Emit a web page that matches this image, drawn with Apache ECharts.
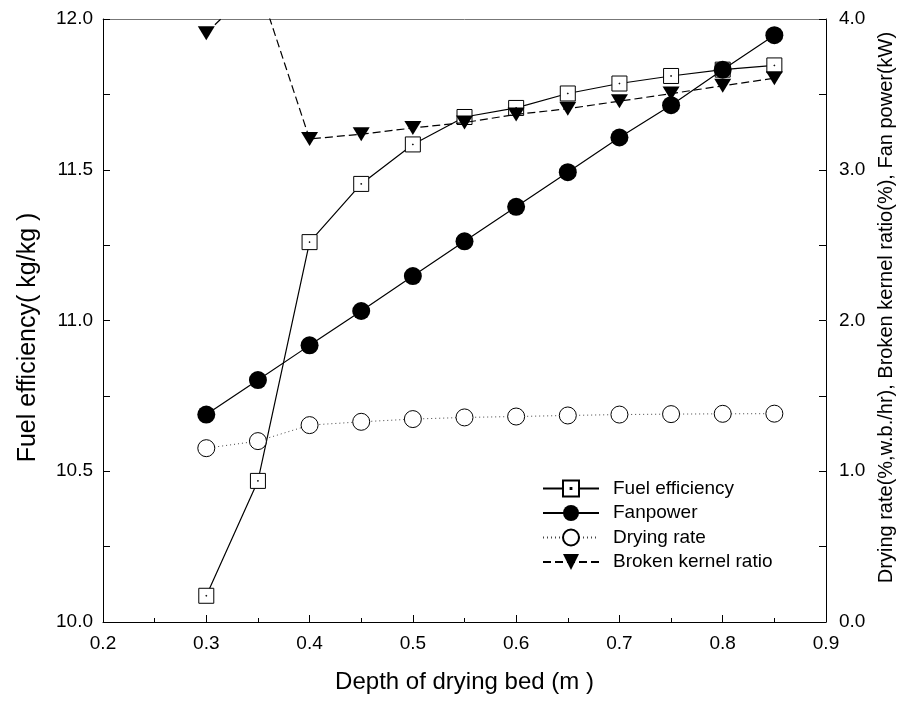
<!DOCTYPE html>
<html>
<head>
<meta charset="utf-8">
<script src="https://cdn.jsdelivr.net/npm/echarts@6/dist/echarts.min.js"></script>
<style>html,body{margin:0;padding:0;background:#fff}#c{width:907px;height:704px}</style>
</head>
<body>
<div id="c"></div>
<script>
const depth = [0.3, 0.35, 0.4, 0.45, 0.5, 0.55, 0.6, 0.65, 0.7, 0.75, 0.8, 0.85];
const fuelEfficiency = [10.087, 10.468, 11.260, 11.453, 11.584, 11.675, 11.705, 11.753, 11.786, 11.811, 11.832, 11.846];
const fanPower = [1.376, 1.605, 1.835, 2.063, 2.295, 2.525, 2.754, 2.984, 3.214, 3.428, 3.664, 3.893];
const dryingRate = [1.153, 1.200, 1.306, 1.328, 1.346, 1.357, 1.363, 1.370, 1.376, 1.379, 1.381, 1.382];
const brokenKernel = [3.906, 4.24, 3.204, 3.236, 3.277, 3.313, 3.367, 3.405, 3.455, 3.505, 3.557, 3.607];
const seriesNames = ['Fuel efficiency', 'Fanpower', 'Drying rate', 'Broken kernel ratio'];

const FONT = 'Liberation Sans, Arial, sans-serif';
const pairs = (ys) => depth.map((x, i) => [x, ys[i]]);
const squareDot = 'path://M0,0H16V16H0Z M7.6,7.6H8.4V8.4H7.6Z';

const chart = echarts.init(document.getElementById('c'), null, {renderer: 'canvas'});
const axisLabel = {color: '#000', fontSize: 19, fontFamily: FONT};
chart.setOption({
  animation: false,
  backgroundColor: '#fff',
  grid: {left: 103, right: 81, top: 19, bottom: 82, containLabel: false},
  xAxis: [{
    type: 'value', min: 0.2, max: 0.9, interval: 0.1,
    name: 'Depth of drying bed (m )', nameLocation: 'middle', nameGap: 48,
    nameTextStyle: {color: '#000', fontSize: 24, fontFamily: FONT},
    axisLine: {show: true, lineStyle: {color: '#000', width: 1}},
    axisTick: {show: true, inside: true, length: 7, lineStyle: {color: '#000'}},
    minorTick: {show: true, splitNumber: 2, length: 4, lineStyle: {color: '#000'}},
    splitLine: {show: false},
    axisLabel: Object.assign({margin: 12, formatter: v => v.toFixed(1)}, axisLabel)
  }, {
    type: 'value', min: 0.2, max: 0.9, position: 'top',
    axisLine: {show: true, lineStyle: {color: '#777', width: 1}},
    axisTick: {show: false}, axisLabel: {show: false}, splitLine: {show: false}
  }],
  yAxis: [{
    type: 'value', min: 10, max: 12, interval: 0.5, position: 'left',
    name: 'Fuel efficiency( kg/kg )', nameLocation: 'middle', nameGap: 62,
    nameTextStyle: {color: '#000', fontSize: 25, fontFamily: FONT, padding: [0, 34, 0, 0]},
    axisLine: {show: true, lineStyle: {color: '#000', width: 1}},
    axisTick: {show: true, inside: true, length: 7, lineStyle: {color: '#000'}},
    minorTick: {show: true, splitNumber: 2, length: 7, lineStyle: {color: '#000'}},
    splitLine: {show: false},
    axisLabel: Object.assign({margin: 10, formatter: v => v.toFixed(1)}, axisLabel)
  }, {
    type: 'value', min: 0, max: 4, interval: 1, position: 'right',
    name: 'Drying rate(%,w.b./hr), Broken kernel ratio(%), Fan power(kW)',
    nameLocation: 'middle', nameGap: 44,
    nameTextStyle: {color: '#000', fontSize: 20, fontFamily: FONT, padding: [0, 0, 0, 26]},
    axisLine: {show: true, lineStyle: {color: '#000', width: 1}},
    axisTick: {show: true, inside: true, length: 7, lineStyle: {color: '#000'}},
    minorTick: {show: true, splitNumber: 2, length: 7, lineStyle: {color: '#000'}},
    splitLine: {show: false},
    axisLabel: Object.assign({margin: 13, formatter: v => v.toFixed(1)}, axisLabel)
  }],
  legend: {
    orient: 'vertical', left: 537, top: 474,
    itemWidth: 56, itemHeight: 20, itemGap: 5.5,
    textStyle: {color: '#000', fontSize: 19, fontFamily: FONT, padding: [0, 0, 0, 9]},
    data: seriesNames,
    selectedMode: false
  },
  series: [{
    name: seriesNames[0], type: 'line', xAxisIndex: 0, yAxisIndex: 0,
    data: pairs(fuelEfficiency),
    symbol: squareDot, symbolSize: 15,
    itemStyle: {color: '#fff', borderColor: '#000', borderWidth: 1},
    lineStyle: {color: '#000', width: 1.2, type: 'solid'},
    emphasis: {disabled: true}, z: 2
  }, {
    name: seriesNames[1], type: 'line', xAxisIndex: 0, yAxisIndex: 1,
    data: pairs(fanPower),
    symbol: 'circle', symbolSize: 18,
    itemStyle: {color: '#000', borderColor: '#000', borderWidth: 0},
    lineStyle: {color: '#000', width: 1.2, type: 'solid'},
    emphasis: {disabled: true}, z: 3
  }, {
    name: seriesNames[2], type: 'line', xAxisIndex: 0, yAxisIndex: 1,
    data: pairs(dryingRate),
    symbol: 'circle', symbolSize: 17,
    itemStyle: {color: '#fff', borderColor: '#000', borderWidth: 1},
    lineStyle: {color: '#444', width: 1, type: [1, 3]},
    emphasis: {disabled: true}, z: 2
  }, {
    name: seriesNames[3], type: 'line', xAxisIndex: 0, yAxisIndex: 1,
    data: pairs(brokenKernel),
    symbol: 'triangle', symbolRotate: 180, symbolSize: [17, 14],
    itemStyle: {color: '#000'},
    lineStyle: {color: '#000', width: 1.2, type: [8, 4]},
    emphasis: {disabled: true}, z: 4
  }]
});
</script>
</body>
</html>
